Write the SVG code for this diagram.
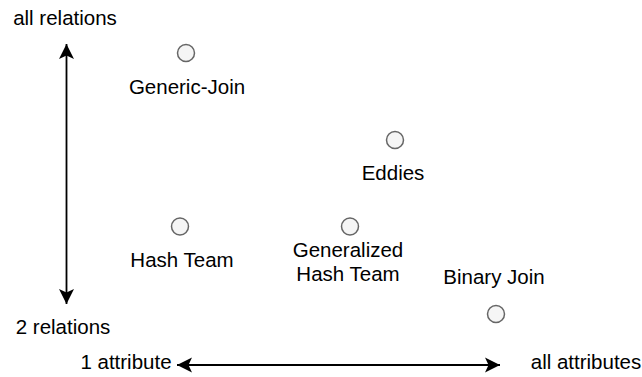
<svg xmlns="http://www.w3.org/2000/svg" width="642" height="377" viewBox="0 0 642 377">
<style>
.t{font-family:"Liberation Sans",Arial,Helvetica,sans-serif;font-size:20.5px;fill:#000;text-anchor:middle}
.n{fill:#f5f5f5;stroke:#666;stroke-width:1.5}
.ax{stroke:#000;stroke-width:1.8;fill:none}
</style>
<defs>
<marker id="ah" markerUnits="userSpaceOnUse" markerWidth="16" markerHeight="16" viewBox="0 0 16 16" refX="15" refY="8" orient="auto-start-reverse">
<path d="M15,8 L0,0.5 L3.5,8 L0,15.5 Z" fill="#000"/>
</marker>
</defs>
<rect width="642" height="377" fill="#fff"/>
<g id="connectors">
<line class="ax" x1="66.5" y1="44" x2="66.5" y2="304" marker-start="url(#ah)" marker-end="url(#ah)"/>
<line class="ax" x1="177" y1="365" x2="500" y2="365" marker-start="url(#ah)" marker-end="url(#ah)"/>
</g>
<g id="label-all-relations"><text class="t" x="65" y="25">all relations</text></g>
<g id="label-2-relations"><text class="t" x="63" y="334">2 relations</text></g>
<g id="label-1-attribute"><text class="t" x="126" y="369">1 attribute</text></g>
<g id="label-all-attributes"><text class="t" x="586" y="369">all attributes</text></g>
<g id="node-generic-join"><circle class="n" cx="186" cy="53" r="8.5"/><text class="t" x="187" y="94">Generic-Join</text></g>
<g id="node-eddies"><circle class="n" cx="395" cy="140" r="8.5"/><text class="t" x="393" y="180">Eddies</text></g>
<g id="node-hash-team"><circle class="n" cx="180" cy="226.5" r="8.5"/><text class="t" x="182" y="267">Hash Team</text></g>
<g id="node-generalized-hash-team"><circle class="n" cx="350" cy="226.5" r="8.5"/><text class="t" x="348" y="257">Generalized</text><text class="t" x="348" y="281">Hash Team</text></g>
<g id="node-binary-join"><circle class="n" cx="496" cy="314" r="8.5"/><text class="t" x="494" y="284">Binary Join</text></g>
</svg>
